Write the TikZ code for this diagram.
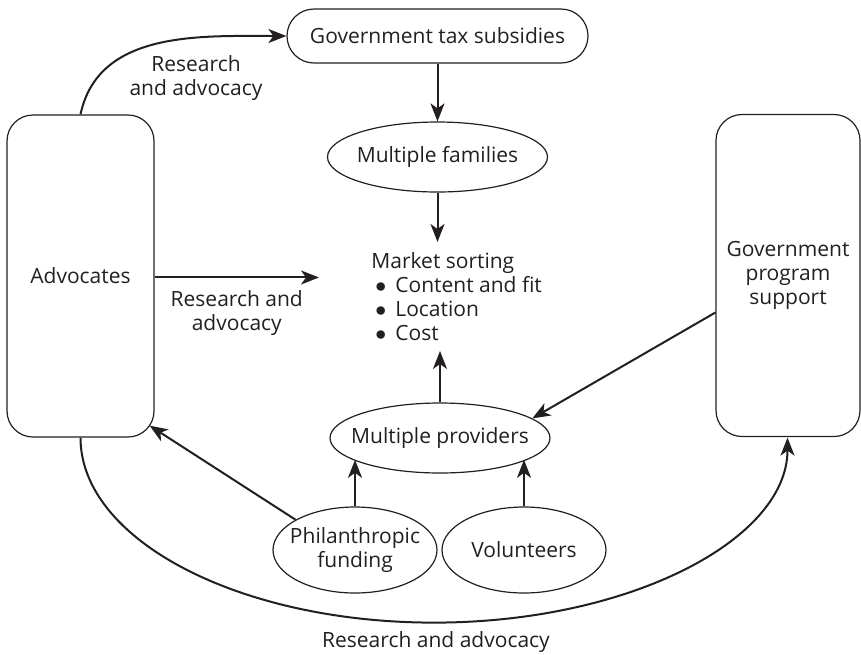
\documentclass[tikz,border=0pt]{standalone}
\usepackage{fontspec}
\setmainfont{Open Sans}
\usetikzlibrary{shapes.geometric,arrows.meta}
\definecolor{ink}{HTML}{231F20}
\newcommand{\mbul}{\hspace*{2pt}$\bullet$\hspace{4.5pt}}
\begin{document}
\begin{tikzpicture}[x=0.5pt,y=-0.5pt,ink,
  font=\fontsize{10.5}{12}\selectfont,
  box/.style={draw,line width=0.6pt,rounded corners=13pt,minimum width=73.5pt,minimum height=161pt,align=center},
  pill/.style={draw,line width=0.6pt,rounded corners=13.5pt,minimum width=150.5pt,minimum height=27pt},
  oval/.style={draw,ellipse,line width=0.6pt,inner xsep=-12pt,inner ysep=0pt,minimum width=110pt,minimum height=35pt,align=center},
  arr/.style={line width=1pt,-{Stealth[length=9pt,width=7pt,inset=2.5pt]}}]
\useasboundingbox (0,0) rectangle (861,654);
%boxes
\node[box] (adv) at (80.5,276) {Advocates};
\node[box,minimum width=72pt] (gov) at (788,275.5) {Government\\program\\support};
\node[pill] (tax) at (437.5,36) {Government tax subsidies};
\node[oval] (fam) at (437.5,157) {Multiple families};
\node[oval] (prov) at (440,438) {Multiple providers};
\node[oval,minimum width=82pt,minimum height=43pt] (phil) at (355,550) {Philanthropic\\funding};
\node[oval,minimum width=82pt,minimum height=43pt] (vol) at (524,550) {Volunteers};
\node[anchor=north west,align=left,inner xsep=26pt,inner ysep=5pt] (market) at (319,242)
  {Market sorting\\\mbul Content and fit\\\mbul Location\\\mbul Cost};
%arrows
\draw[arr] (tax.south) -- (fam.north);
\draw[arr] (fam.south) -- (fam.south |- market.north);
\draw[arr] (prov.north) -- (prov.north |- market.south);
\draw[arr] (phil.north) -- (phil.north |- prov.194);
\draw[arr] (vol.north) -- (vol.north |- prov.-14);
\draw[arr] (phil.153) -- ([shift={(-2.5pt,6pt)}]adv.south east);
\draw[arr] ([yshift=-18.5pt]gov.west) -- (prov.12);
\draw[arr] ([yshift=9.5pt]market.west -| adv.east) -- ([yshift=9.5pt]market.west)
  node[midway,below=2.5pt,align=center] (ladv) {Research and\\advocacy};
\draw[arr] (adv.north) to[out=78,in=180] (tax.west);
\draw[arr] (adv.south) arc[start angle=180,end angle=360,x radius=176.75pt,y radius=92.5pt];
%labels
\node[align=center] (ltax) at (196,78) {Research\\and advocacy};
\node (lbot) at (436,642) {Research and advocacy};
\end{tikzpicture}
\end{document}
